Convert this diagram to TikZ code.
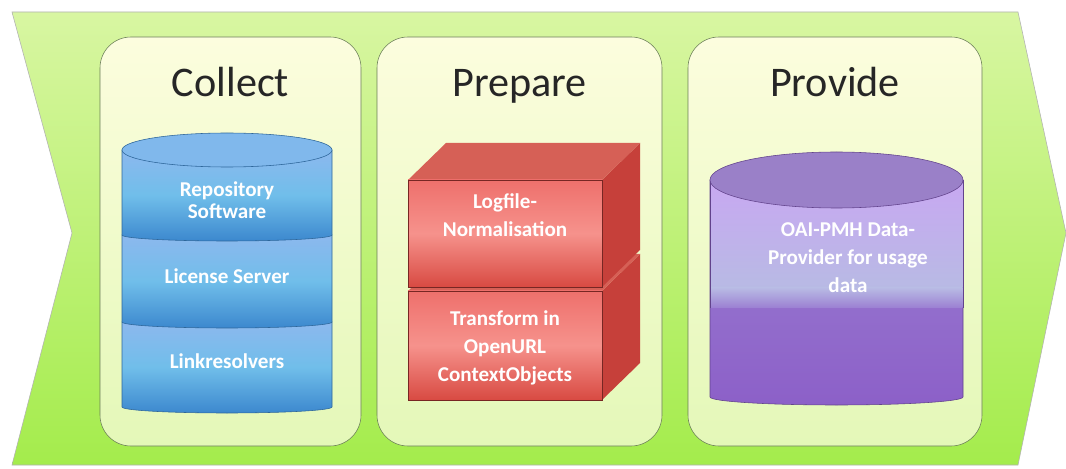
\documentclass[tikz,border=0pt]{standalone}
\usepackage{fontspec}
\setmainfont{Carlito}
\definecolor{chevtop}{RGB}{216,246,162}
\definecolor{chevbot}{RGB}{164,236,76}
\definecolor{paneltop}{RGB}{252,253,222}
\definecolor{panelbot}{RGB}{228,248,184}
\definecolor{paneledge}{RGB}{105,125,85}
\definecolor{bluetop}{RGB}{128,184,236}
\definecolor{bluelight}{RGB}{140,184,238}
\definecolor{bluecyan}{RGB}{112,190,234}
\definecolor{bluedark}{RGB}{60,136,206}
\definecolor{redlight}{RGB}{246,146,140}
\definecolor{redmid}{RGB}{238,112,108}
\definecolor{reddark}{RGB}{216,74,66}
\definecolor{redtop}{RGB}{214,96,86}
\definecolor{redside}{RGB}{198,64,58}
\definecolor{purptop}{RGB}{154,128,200}
\definecolor{purplight}{RGB}{200,168,242}
\definecolor{purpmid}{RGB}{184,186,228}
\definecolor{purpdark}{RGB}{140,96,200}
\tikzset{
	phasetitle/.style={anchor=base, font=\fontsize{30}{33}\selectfont, text=black!85},
	boxtext/.style={align=center, text=white, font=\bfseries\fontsize{15}{20}\selectfont}
}
\begin{document}
\begin{tikzpicture}[x=0.025cm, y=0.025cm]
	\useasboundingbox (0,0) rectangle (1066,468);
	\fill[white] (0,0) rectangle (1066,468);
	\shadedraw[top color=chevtop, bottom color=chevbot, draw=gray!60] (12,456) -- (1018,456) -- (1066,235) -- (1018,3) -- (12,3) -- (72,235) -- cycle;
	\foreach \l/\r/\name in {100/361/Collect, 377/662/Prepare, 688/982/Provide}
	{
		\shadedraw[top color=paneltop, bottom color=panelbot, draw=paneledge, rounded corners=22pt] (\l,22) rectangle (\r,431);
		\node[phasetitle] (title-\name) at ({(\l+\r)/2},371) {\name};
	}
	
	\foreach \top/\bot in {146/61, 233/146, 318/233}
	{
		\shadedraw[top color=bluelight, bottom color=bluedark, middle color=bluecyan, draw=bluedark!75!black] (122,\top) -- (122,\bot) arc (180:360:105 and 6) -- (332,\top) -- cycle;
	}
	\filldraw[fill=bluetop, draw=bluedark!75!black] (227,318) ellipse (105 and 17);
	\node[boxtext] (repo) at (227,268) {Repository\\[-4pt]Software};
	\node[boxtext] (license) at (227,192) {License Server};
	\node[boxtext] (linkres) at (227,107) {Linkresolvers};
	
	\foreach \top/\bot in {177/68, 288/181}
	{
		\fill[redside] (602,\top) -- (640,\top+37) -- (640,\bot+37) -- (602,\bot) -- cycle;
		\fill[redtop] (408,\top) -- (446,\top+37) -- (640,\top+37) -- (602,\top) -- cycle;
		\shadedraw[top color=redmid, bottom color=reddark, middle color=redlight, draw=redside!60!black, very thin] (408,\bot) rectangle (602,\top);
	}
	\node[boxtext] (logfile) at (505,253) {Logfile-\\Normalisation};
	\node[boxtext] (transform) at (505,120) {Transform in\\OpenURL\\ContextObjects};
	
	\shadedraw[top color=purpmid!35!purpdark, bottom color=purpdark, draw=purpdark!70!black] (710,288) -- (710,71) arc (180:360:126.5 and 8) -- (963,288) -- cycle;
	\shade[top color=purplight, bottom color=purpmid] (710.3,180) rectangle (962.7,288);
	\shade[top color=purpmid, bottom color=purpmid!35!purpdark] (710.3,160) rectangle (962.7,180);
	\draw[purpdark!70!black] (710,160) -- (710,288) (963,160) -- (963,288);
	\filldraw[fill=purptop, draw=purpdark!70!black] (836.5,288) ellipse (126.5 and 28);
	\node[boxtext] (oaipmh) at (848,210) {OAI-PMH Data-\\Provider for usage\\data};
\end{tikzpicture}
\end{document}
